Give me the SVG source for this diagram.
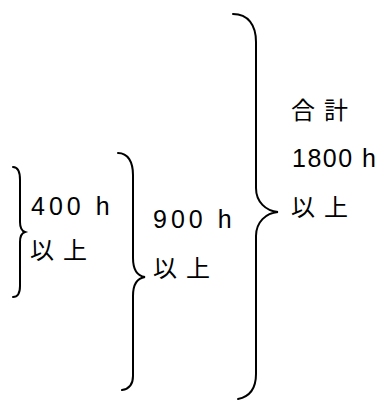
<svg xmlns="http://www.w3.org/2000/svg" width="389" height="401" viewBox="0 0 389 401">
<style>
.br{fill:none;stroke:#000;stroke-width:2;stroke-linecap:round}
.t{font-family:"Liberation Sans","Noto Sans CJK JP",sans-serif;font-size:25px;fill:#000;letter-spacing:4px}
.j{font-family:"Noto Sans CJK JP",sans-serif;font-size:24px;fill:#000;letter-spacing:9px}
</style>
<rect width="389" height="401" fill="#fff"/>
<g id="connectors">
<path class="br" d="M13,167 C18,167 20,172 20,180 L20,222 C20,228 22,231 25,232 C22,233 20,236 20,242 L20,286 C20,293 18,297 13,297"/>
<path class="br" d="M118,153 C128,153 133,162 133,175 L133,258 C133,270 138,276 145,277 C138,278 133,284 133,296 L133,376 C133,385 129,389 122,390"/>
<path class="br" d="M233,14 C248,14 256,25 256,42 L256,188 C256,202 266,211 278,212 C266,213 256,222 256,236 L256,374 C256,390 248,397 238,399"/>
</g>
<g id="n400">
<text class="t" x="31" y="215">400 h</text>
<text class="j" x="30" y="259">以上</text>
</g>
<g id="n900">
<text class="t" x="153" y="228">900 h</text>
<text class="j" x="153" y="277">以上</text>
</g>
<g id="n1800">
<text class="j" x="291" y="119">合計</text>
<text class="t" x="292" y="167" style="letter-spacing:1.5px">1800 h</text>
<text class="j" x="291" y="216">以上</text>
</g>
</svg>
